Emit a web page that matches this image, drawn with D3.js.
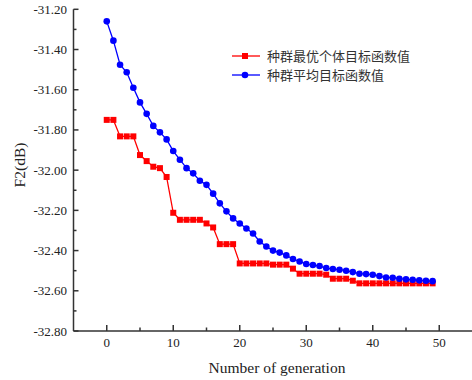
<!DOCTYPE html>
<html><head><meta charset="utf-8">
<script src="https://cdn.jsdelivr.net/npm/d3@7"></script>
<style>body{margin:0;background:#fff}svg{display:block}</style>
</head><body>
<script>
const generations = d3.range(0, 50);
const bestValues = [
 -31.75,-31.75,-31.832,-31.832,-31.832,-31.925,-31.955,-31.983,-31.99,-32.034,
 -32.212,-32.247,-32.247,-32.247,-32.247,-32.265,-32.285,-32.368,-32.368,-32.368,
 -32.464,-32.464,-32.464,-32.464,-32.464,-32.47,-32.47,-32.47,-32.49,-32.515,
 -32.515,-32.515,-32.515,-32.52,-32.54,-32.54,-32.54,-32.55,-32.563,-32.563,
 -32.563,-32.563,-32.563,-32.563,-32.563,-32.563,-32.563,-32.563,-32.563,-32.563];
const avgValues = [
 -31.26,-31.356,-31.476,-31.513,-31.59,-31.663,-31.72,-31.78,-31.812,-31.847,
 -31.905,-31.948,-31.99,-32.016,-32.053,-32.073,-32.117,-32.165,-32.205,-32.24,
 -32.265,-32.29,-32.315,-32.355,-32.38,-32.40,-32.41,-32.424,-32.442,-32.454,
 -32.467,-32.472,-32.477,-32.487,-32.492,-32.495,-32.50,-32.507,-32.515,-32.517,
 -32.52,-32.527,-32.534,-32.535,-32.54,-32.543,-32.545,-32.548,-32.55,-32.552];
const seriesNames = ["种群最优个体目标函数值", "种群平均目标函数值"];
const xTicks = [0,10,20,30,40,50];
const yTicks = [-31.2,-31.4,-31.6,-31.8,-32.0,-32.2,-32.4,-32.6,-32.8];

const W = 472, H = 380;
const svg = d3.select("body").append("svg").attr("width", W).attr("height", H);
const x = d3.scaleLinear().domain([-5, 55]).range([73.5, 472.5]);
const y = d3.scaleLinear().domain([-32.8, -31.2]).range([331, 9.3]);
const serif = "'Liberation Serif','Times New Roman',serif";
const axisColor = "#333";

const xMinor = d3.range(-5, 55, 5).filter(v => v % 10 !== 0 && v > -5);
const yMinor = d3.range(-32.7, -31.2, 0.2);

const ax = svg.append("g").attr("stroke", axisColor).attr("stroke-width", 1.5);
ax.append("line").attr("x1", x(-5)).attr("x2", W).attr("y1", y(-32.8)).attr("y2", y(-32.8));
ax.append("line").attr("x1", x(-5)).attr("x2", x(-5)).attr("y1", y(-31.2)).attr("y2", y(-32.8));
ax.selectAll(".xt").data(xTicks).join("line").attr("x1", d=>x(d)).attr("x2", d=>x(d)).attr("y1", y(-32.8)).attr("y2", y(-32.8)-6);
ax.selectAll(".xm").data(xMinor).join("line").attr("x1", d=>x(d)).attr("x2", d=>x(d)).attr("y1", y(-32.8)).attr("y2", y(-32.8)-3.5);
ax.selectAll(".yt").data(yTicks).join("line").attr("x1", x(-5)).attr("x2", x(-5)+5).attr("y1", d=>y(d)).attr("y2", d=>y(d));
ax.selectAll(".ym").data(yMinor).join("line").attr("x1", x(-5)).attr("x2", x(-5)+3).attr("y1", d=>y(d)).attr("y2", d=>y(d));

svg.selectAll(".xl").data(xTicks).join("text").attr("x", d=>x(d)).attr("y", 347)
  .attr("text-anchor","middle").attr("font-family", serif).attr("font-size", 13).attr("fill","#222").text(d=>d);
svg.selectAll(".yl").data(yTicks).join("text").attr("x", 67).attr("y", d=>y(d)).attr("dy","0.35em")
  .attr("text-anchor","end").attr("font-family", serif).attr("font-size", 13).attr("fill","#222").text(d=>d.toFixed(2));

svg.append("text").attr("x", 277).attr("y", 373).attr("text-anchor","middle")
  .attr("font-family", serif).attr("font-size", 15.5).attr("fill","#222").text("Number of generation");
svg.append("text").attr("transform","translate(25,165) rotate(-90)").attr("text-anchor","middle")
  .attr("font-family", serif).attr("font-size", 15.5).attr("fill","#222").text("F2(dB)");

const line = d3.line().x((d,i)=>x(generations[i])).y(d=>y(d));
svg.append("path").datum(bestValues).attr("d", line).attr("fill","none").attr("stroke","#ff0000").attr("stroke-width",1.3);
svg.append("path").datum(avgValues).attr("d", line).attr("fill","none").attr("stroke","#0000ff").attr("stroke-width",1.3);
svg.selectAll(".sq").data(bestValues).join("rect").attr("x",(d,i)=>x(generations[i])-3).attr("y",d=>y(d)-3)
  .attr("width",6).attr("height",6).attr("fill","#ff0000");
svg.selectAll(".ci").data(avgValues).join("circle").attr("cx",(d,i)=>x(generations[i])).attr("cy",d=>y(d))
  .attr("r",3.3).attr("fill","#0000ff");

const lg = svg.append("g");
const rows = [{name: seriesNames[0], color:"#ff0000", shape:"sq", yy:56},{name: seriesNames[1], color:"#0000ff", shape:"ci", yy:75}];
rows.forEach(r => {
  lg.append("line").attr("x1",232).attr("x2",260).attr("y1",r.yy).attr("y2",r.yy).attr("stroke",r.color).attr("stroke-width",1.3);
  if (r.shape==="sq") lg.append("rect").attr("x",242).attr("y",r.yy-3).attr("width",6).attr("height",6).attr("fill",r.color);
  else lg.append("circle").attr("cx",245).attr("cy",r.yy).attr("r",3.3).attr("fill",r.color);
  lg.append("text").attr("x",267).attr("y",r.yy).attr("dy","0.36em").attr("font-family","'Noto Sans CJK SC',sans-serif")
    .attr("font-size",13).attr("fill","#333").text(r.name);
});
</script>
</body></html>
